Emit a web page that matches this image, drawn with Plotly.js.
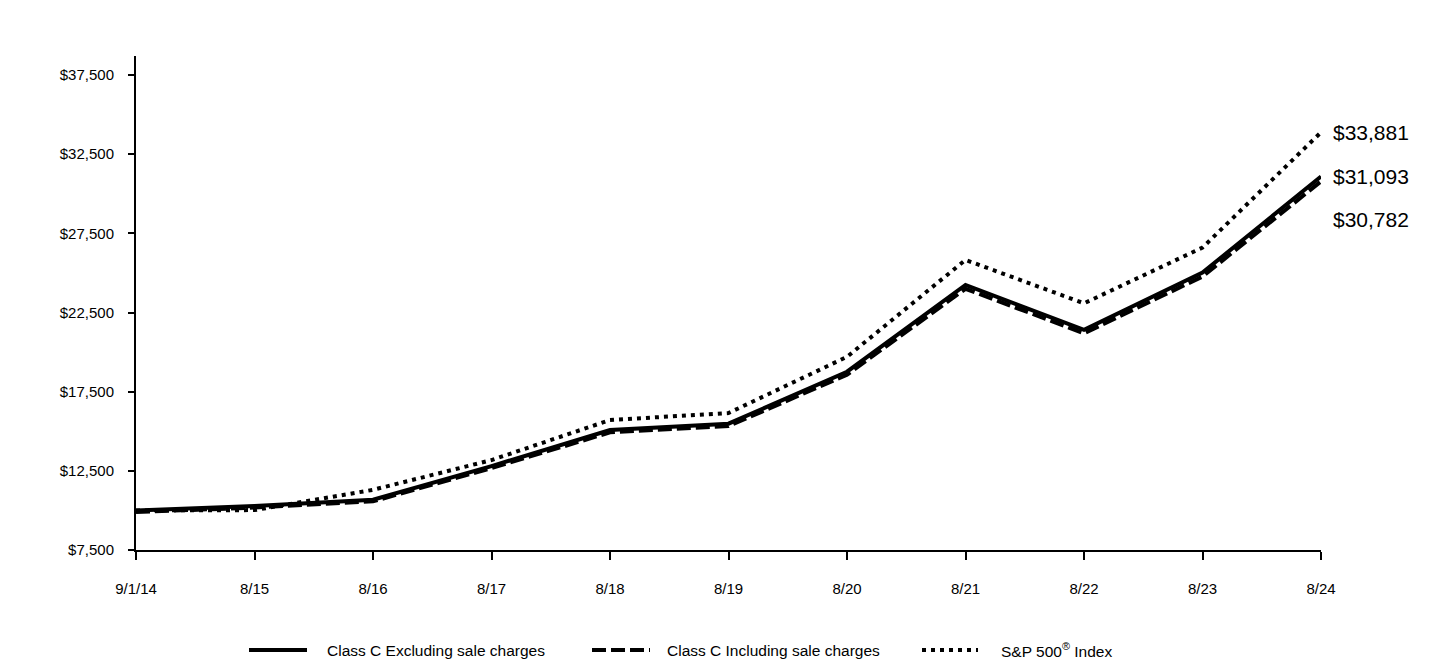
<!DOCTYPE html>
<html>
<head>
<meta charset="utf-8">
<script src="https://cdn.plot.ly/plotly-3.0.1.min.js"></script>
<style>
  html, body { margin: 0; padding: 0; background: #fff; }
  #chart { width: 1440px; height: 660px; }
</style>
</head>
<body>
<div id="chart"></div>
<script>
// Hypothetical $10,000 investment
const periods = ['9/1/14', '8/15', '8/16', '8/17', '8/18', '8/19', '8/20', '8/21', '8/22', '8/23', '8/24'];
const classCExcl = [10000, 10280, 10680, 12800, 15080, 15480, 18760, 24240, 21400, 25020, 31093];
const classCIncl = [9900, 10177, 10573, 12672, 14929, 15325, 18572, 23998, 21186, 24770, 30782];
const sp500 = [10000, 10020, 11300, 13180, 15710, 16150, 19700, 25820, 23080, 26600, 33881];
const yTicks = [7500, 12500, 17500, 22500, 27500, 32500, 37500];
const yTickText = yTicks.map((v) => '$' + v.toLocaleString('en-US'));

const seriesNames = ['Class C Excluding sale charges', 'Class C Including sale charges', 'S&P 500<sup>®</sup> Index'];
const endLabels = ['$33,881', '$31,093', '$30,782'];

const font = 'Arial, "Liberation Sans", sans-serif';

const data = [
  {
    x: periods,
    y: sp500,
    type: 'scatter',
    mode: 'lines',
    name: seriesNames[2],
    line: { color: '#000', width: 4, dash: '4px,5px' },
  },
  {
    x: periods,
    y: classCExcl,
    type: 'scatter',
    mode: 'lines',
    name: seriesNames[0],
    line: { color: '#000', width: 4 },
  },
  {
    x: periods,
    y: classCIncl,
    type: 'scatter',
    mode: 'lines',
    name: seriesNames[1],
    line: { color: '#000', width: 4, dash: '14px,5px' },
  },
];

// map pixel positions in the 1440x660 frame to paper coords
const L = 136, R = 1321, T = 56, B = 550;
const px = (x) => (x - L) / (R - L);
const py = (y) => (B - y) / (B - T);
const legendY = 650;

const legendItems = [
  { x0: 249, x1: 307, tx: 325, dash: 'solid', text: seriesNames[0] },
  { x0: 592, x1: 650, tx: 665, dash: '14px,5px', text: seriesNames[1] },
  { x0: 922, x1: 978, tx: 999, dash: '4px,5px', text: seriesNames[2] },
];

const shapes = legendItems.map((it) => ({
  type: 'line',
  xref: 'paper',
  yref: 'paper',
  x0: px(it.x0),
  x1: px(it.x1),
  y0: py(legendY),
  y1: py(legendY),
  line: { color: '#000', width: 4, dash: it.dash },
}));

const annotations = legendItems.map((it) => ({
  xref: 'paper',
  yref: 'paper',
  x: px(it.tx),
  y: py(legendY),
  xanchor: 'left',
  yanchor: 'middle',
  text: it.text,
  showarrow: false,
  font: { family: font, size: 15.5, color: '#000' },
}));

const last = periods.length - 1;
[
  [sp500[last], endLabels[0], 0],
  [classCExcl[last], endLabels[1], 0],
  [classCIncl[last], endLabels[2], -38],
].forEach(([v, t, shift]) => {
  annotations.push({
    x: periods[last],
    y: v,
    xref: 'x',
    yref: 'y',
    xanchor: 'left',
    yanchor: 'middle',
    xshift: 10,
    yshift: shift,
    text: t,
    showarrow: false,
    font: { family: font, size: 21, color: '#000' },
  });
});

const layout = {
  width: 1440,
  height: 660,
  margin: { l: L, r: 1440 - R, t: T, b: 660 - B },
  paper_bgcolor: '#fff',
  plot_bgcolor: '#fff',
  showlegend: false,
  font: { family: font, size: 15, color: '#000' },
  xaxis: {
    type: 'category',
    range: [0, last],
    showgrid: false,
    zeroline: false,
    showline: true,
    linecolor: '#000',
    linewidth: 2,
    ticks: 'outside',
    ticklen: 8,
    tickwidth: 2,
    tickcolor: '#000',
    ticklabelstandoff: 16,
    tickfont: { family: font, size: 15, color: '#000' },
  },
  yaxis: {
    range: [7500, 38700],
    tickvals: yTicks,
    ticktext: yTickText,
    showgrid: false,
    zeroline: false,
    showline: true,
    linecolor: '#000',
    linewidth: 2,
    ticks: 'outside',
    ticklen: 6,
    tickwidth: 2,
    tickcolor: '#000',
    ticklabelstandoff: 11,
    tickfont: { family: font, size: 15, color: '#000' },
  },
  shapes: shapes,
  annotations: annotations,
};

Plotly.newPlot('chart', data, layout, { displayModeBar: false, responsive: false });
</script>
</body>
</html>
